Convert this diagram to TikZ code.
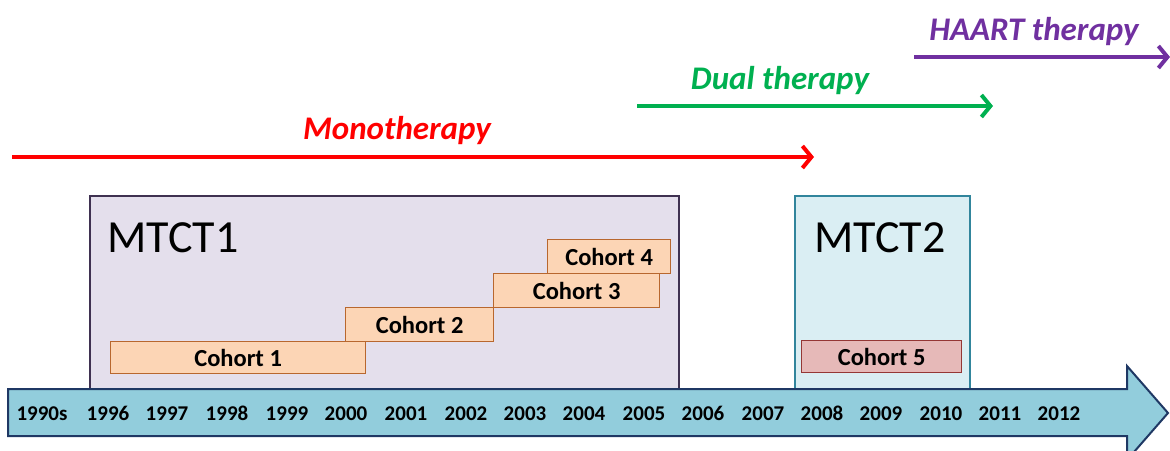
\documentclass[tikz,border=0pt]{standalone}
\usepackage{fontspec}
\setmainfont[Numbers=Lining]{Carlito}
\usetikzlibrary{arrows.meta}
\definecolor{tlfill}{HTML}{92CDDC}
\definecolor{tldraw}{HTML}{1F3864}
\definecolor{mOnefill}{HTML}{E4DFEC}
\definecolor{mOnedraw}{HTML}{3F3151}
\definecolor{mTwofill}{HTML}{DAEEF3}
\definecolor{mTwodraw}{HTML}{31859C}
\definecolor{cohfill}{HTML}{FCD5B5}
\definecolor{cohdraw}{HTML}{B8672E}
\definecolor{cfivefill}{HTML}{E6B9B8}
\definecolor{cfivedraw}{HTML}{953735}
\definecolor{monored}{HTML}{FF0000}
\definecolor{dualgreen}{HTML}{00B050}
\definecolor{haartpurple}{HTML}{7030A0}
\tikzset{
  yearlbl/.style={font=\fontsize{21}{23}\selectfont\bfseries, text=black, inner sep=0pt, anchor=base},
  cohortbox/.style={draw=cohdraw, fill=cohfill, line width=1.2pt, inner sep=0pt, font=\fontsize{24.5}{26}\selectfont\bfseries},
  studybox/.style={line width=1.6pt, inner sep=0pt},
  biglbl/.style={font=\fontsize{46}{50}\selectfont, inner sep=0pt, anchor=base west},
  therapy/.style={line width=4.5pt, -{Straight Barb[length=9pt,width=22pt,line width=4pt]}},
  therlbl/.style={font=\fontsize{33}{36}\selectfont\bfseries\itshape, inner sep=0pt}
}
\begin{document}
\begin{tikzpicture}[x=1pt,y=-1pt]
\useasboundingbox (0,0) rectangle (1170,450);
% study boxes
\node[studybox, draw=mOnedraw, fill=mOnefill, minimum width=589pt, minimum height=195pt, anchor=north west] (mtctone) at (89,195) {};
\node[studybox, draw=mTwodraw, fill=mTwofill, minimum width=175pt, minimum height=195pt, anchor=north west] (mtcttwo) at (794,195) {};
\node[biglbl] (lblone) at (107,252) {MTCT1};
\node[biglbl] (lbltwo) at (814,252) {MTCT2};
% cohorts
\node[cohortbox, minimum width=255pt, minimum height=32pt, anchor=north west] (c1) at (110,341) {Cohort 1};
\node[cohortbox, minimum width=148pt, minimum height=34pt, anchor=north west] (c2) at (345,307) {Cohort 2};
\node[cohortbox, minimum width=166pt, minimum height=34pt, anchor=north west] (c3) at (493,273) {Cohort 3};
\node[cohortbox, minimum width=123pt, minimum height=34pt, anchor=north west] (c4) at (547,239) {Cohort 4};
\node[cohortbox, draw=cfivedraw, fill=cfivefill, minimum width=160pt, minimum height=32pt, anchor=north west] (c5) at (801,340) {Cohort 5};
% timeline arrow
\draw[draw=tldraw, fill=tlfill, line width=2pt, line join=miter]
  (8,389) -- (1127,389) -- (1127,366) -- (1168,413) -- (1127,460) -- (1127,436) -- (8,436) -- cycle;
\foreach \yr/\xx [count=\i] in {1990s/42,1996/108,1997/167,1998/227,1999/287,2000/346,2001/406,2002/466,2003/525,2004/584,2005/644,2006/703,2007/763,2008/822,2009/881,2010/941,2011/1000,2012/1059}
  \node[yearlbl] (yr\i) at (\xx,420) {\yr};
% therapy arrows
\coordinate (monoS) at (12,157);
\coordinate (monoE) at (814,157);
\coordinate (dualS) at (637,106);
\coordinate (dualE) at (993,106);
\coordinate (haartS) at (914,57);
\coordinate (haartE) at (1170,57);
\draw[therapy, draw=monored] (monoS) -- (monoE);
\draw[therapy, draw=dualgreen] (dualS) -- (dualE);
\draw[therapy, draw=haartpurple] (haartS) -- (haartE);
\node[therlbl, text=monored] (mono) at (397,131) {Monotherapy};
\node[therlbl, text=dualgreen] (dual) at (780,81) {Dual therapy};
\node[therlbl, text=haartpurple] (haart) at (1034,32) {HAART therapy};
\end{tikzpicture}
\end{document}
